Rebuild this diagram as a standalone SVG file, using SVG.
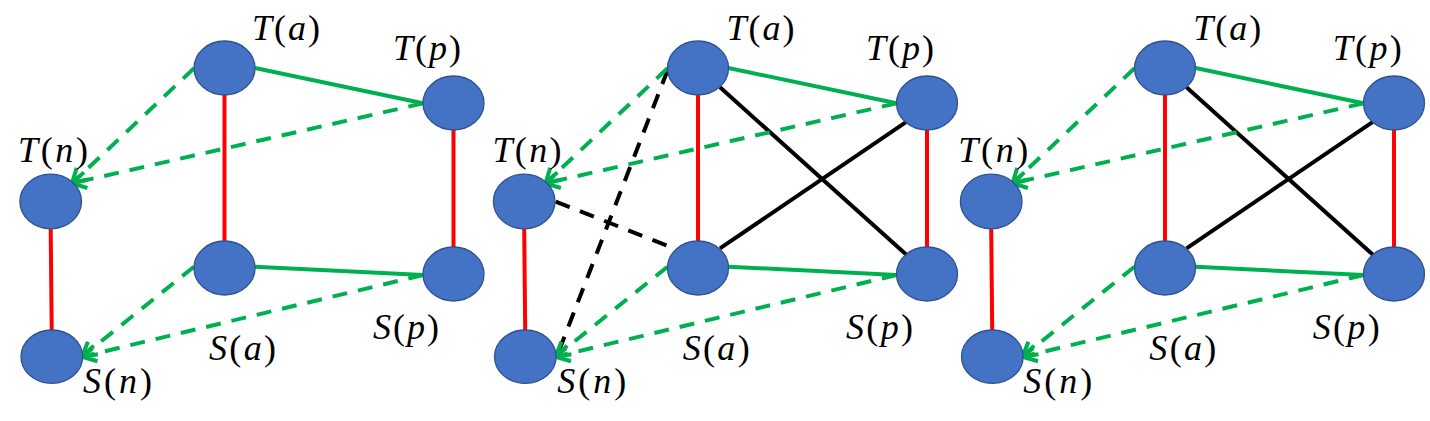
<svg xmlns="http://www.w3.org/2000/svg" width="1430" height="421" viewBox="0 0 1430 421">
<style>
.node{fill:#4472C4;stroke:#2F528F;stroke-width:1.3}
.g{stroke:#00B050;stroke-width:4;fill:none}
.gd{stroke:#00B050;stroke-width:4;fill:none;stroke-dasharray:15 11}
.r{stroke:#FF0000;stroke-width:4;fill:none}
.k{stroke:#000;stroke-width:4;fill:none}
.kd{stroke:#000;stroke-width:4;fill:none;stroke-dasharray:15 11}
.lbl{font-family:"Liberation Serif","DejaVu Serif",serif;font-size:36px;fill:#000}
.it{font-style:italic}
</style>
<defs>
<marker id="ga" markerUnits="userSpaceOnUse" markerWidth="22" markerHeight="22" refX="17" refY="11" orient="auto">
<path d="M3,3 L17,11 L3,19" fill="none" stroke="#00B050" stroke-width="4" stroke-dasharray="none"/>
</marker>
</defs>
<g id="connectors">
<!-- panel 1 -->
<line class="g" x1="255" y1="68" x2="423" y2="103.3"/>
<line class="g" x1="255" y1="266.7" x2="423" y2="275"/>
<line class="r" x1="224.5" y1="95" x2="224.5" y2="241"/>
<line class="r" x1="453.5" y1="130" x2="453.5" y2="247"/>
<line class="r" x1="50.7" y1="228.5" x2="51.7" y2="330"/>
<line class="gd" x1="194" y1="68.3" x2="72" y2="183.3" marker-end="url(#ga)"/>
<line class="gd" x1="423" y1="103.3" x2="72" y2="183.3" marker-end="url(#ga)"/>
<line class="gd" x1="194" y1="266.7" x2="82" y2="356.7" marker-end="url(#ga)"/>
<line class="gd" x1="423" y1="275" x2="82" y2="356.7" marker-end="url(#ga)"/>
<!-- panel 2 -->
<line class="kd" x1="667.7" y1="70" x2="556.7" y2="356.7"/>
<line class="kd" x1="555.7" y1="201.7" x2="670" y2="246.7"/>
<line class="k" x1="720" y1="87.3" x2="906.7" y2="255"/>
<line class="k" x1="720" y1="248.3" x2="906.7" y2="121.7"/>
<line class="g" x1="728.5" y1="68" x2="896.5" y2="103.3"/>
<line class="g" x1="728.5" y1="266.7" x2="896.5" y2="275"/>
<line class="r" x1="698" y1="95" x2="698" y2="241"/>
<line class="r" x1="927" y1="130" x2="927" y2="247"/>
<line class="r" x1="524.2" y1="228.5" x2="525.2" y2="330"/>
<line class="gd" x1="667.5" y1="68.3" x2="545.5" y2="183.3" marker-end="url(#ga)"/>
<line class="gd" x1="896.5" y1="103.3" x2="545.5" y2="183.3" marker-end="url(#ga)"/>
<line class="gd" x1="667.5" y1="266.7" x2="555.5" y2="356.7" marker-end="url(#ga)"/>
<line class="gd" x1="896.5" y1="275" x2="555.5" y2="356.7" marker-end="url(#ga)"/>
<!-- panel 3 -->
<line class="k" x1="1186.5" y1="87.3" x2="1373.2" y2="255"/>
<line class="k" x1="1186.5" y1="248.3" x2="1373.2" y2="121.7"/>
<line class="g" x1="1195.5" y1="68" x2="1363.5" y2="103.3"/>
<line class="g" x1="1195.5" y1="266.7" x2="1363.5" y2="275"/>
<line class="r" x1="1165" y1="95" x2="1165" y2="241"/>
<line class="r" x1="1394" y1="130" x2="1394" y2="247"/>
<line class="r" x1="991.2" y1="228.5" x2="992.2" y2="330"/>
<line class="gd" x1="1134.5" y1="68.3" x2="1012.5" y2="183.3" marker-end="url(#ga)"/>
<line class="gd" x1="1363.5" y1="103.3" x2="1012.5" y2="183.3" marker-end="url(#ga)"/>
<line class="gd" x1="1134.5" y1="266.7" x2="1022.5" y2="356.7" marker-end="url(#ga)"/>
<line class="gd" x1="1363.5" y1="275" x2="1022.5" y2="356.7" marker-end="url(#ga)"/>
</g>
<!-- panel 1 nodes -->
<g id="p1-Ta"><ellipse class="node" cx="224.5" cy="68" rx="30.5" ry="27"/><text class="lbl" x="252" y="40" textLength="68" lengthAdjust="spacing"><tspan class="it">T</tspan>(<tspan class="it">a</tspan>)</text></g>
<g id="p1-Tp"><ellipse class="node" cx="453.5" cy="103" rx="30.5" ry="27"/><text class="lbl" x="393" y="60" textLength="68" lengthAdjust="spacing"><tspan class="it">T</tspan>(<tspan class="it">p</tspan>)</text></g>
<g id="p1-Tn"><ellipse class="node" cx="50.7" cy="201.5" rx="30.8" ry="27.3"/><text class="lbl" x="18" y="161.7" textLength="70" lengthAdjust="spacing"><tspan class="it">T</tspan>(<tspan class="it">n</tspan>)</text></g>
<g id="p1-Sa"><ellipse class="node" cx="224.5" cy="268" rx="30.5" ry="27"/><text class="lbl" x="209" y="360" textLength="67" lengthAdjust="spacing"><tspan class="it">S</tspan>(<tspan class="it">a</tspan>)</text></g>
<g id="p1-Sp"><ellipse class="node" cx="453.5" cy="274" rx="30.5" ry="27"/><text class="lbl" x="373" y="339" textLength="66" lengthAdjust="spacing"><tspan class="it">S</tspan>(<tspan class="it">p</tspan>)</text></g>
<g id="p1-Sn"><ellipse class="node" cx="51.8" cy="356.7" rx="30.8" ry="26.7"/><text class="lbl" x="83" y="392.7" textLength="69" lengthAdjust="spacing"><tspan class="it">S</tspan>(<tspan class="it">n</tspan>)</text></g>
<!-- panel 2 nodes -->
<g id="p2-Ta"><ellipse class="node" cx="698" cy="68" rx="30.5" ry="27"/><text class="lbl" x="726.5" y="40" textLength="68" lengthAdjust="spacing"><tspan class="it">T</tspan>(<tspan class="it">a</tspan>)</text></g>
<g id="p2-Tp"><ellipse class="node" cx="927" cy="103" rx="30.5" ry="27"/><text class="lbl" x="866" y="60" textLength="68" lengthAdjust="spacing"><tspan class="it">T</tspan>(<tspan class="it">p</tspan>)</text></g>
<g id="p2-Tn"><ellipse class="node" cx="524.2" cy="201.5" rx="30.8" ry="27.3"/><text class="lbl" x="492.5" y="161.7" textLength="69" lengthAdjust="spacing"><tspan class="it">T</tspan>(<tspan class="it">n</tspan>)</text></g>
<g id="p2-Sa"><ellipse class="node" cx="698" cy="268" rx="30.5" ry="27"/><text class="lbl" x="682.7" y="360" textLength="67" lengthAdjust="spacing"><tspan class="it">S</tspan>(<tspan class="it">a</tspan>)</text></g>
<g id="p2-Sp"><ellipse class="node" cx="927" cy="274" rx="30.5" ry="27"/><text class="lbl" x="846" y="339" textLength="67" lengthAdjust="spacing"><tspan class="it">S</tspan>(<tspan class="it">p</tspan>)</text></g>
<g id="p2-Sn"><ellipse class="node" cx="525.3" cy="356.7" rx="30.8" ry="26.7"/><text class="lbl" x="557.3" y="392.7" textLength="69" lengthAdjust="spacing"><tspan class="it">S</tspan>(<tspan class="it">n</tspan>)</text></g>
<!-- panel 3 nodes -->
<g id="p3-Ta"><ellipse class="node" cx="1165" cy="68" rx="30.5" ry="27"/><text class="lbl" x="1193.3" y="40" textLength="68" lengthAdjust="spacing"><tspan class="it">T</tspan>(<tspan class="it">a</tspan>)</text></g>
<g id="p3-Tp"><ellipse class="node" cx="1394" cy="103" rx="30.5" ry="27"/><text class="lbl" x="1332.7" y="60" textLength="69" lengthAdjust="spacing"><tspan class="it">T</tspan>(<tspan class="it">p</tspan>)</text></g>
<g id="p3-Tn"><ellipse class="node" cx="991.2" cy="201.5" rx="30.8" ry="27.3"/><text class="lbl" x="958.3" y="161.7" textLength="70" lengthAdjust="spacing"><tspan class="it">T</tspan>(<tspan class="it">n</tspan>)</text></g>
<g id="p3-Sa"><ellipse class="node" cx="1165" cy="268" rx="30.5" ry="27"/><text class="lbl" x="1149.3" y="360" textLength="67" lengthAdjust="spacing"><tspan class="it">S</tspan>(<tspan class="it">a</tspan>)</text></g>
<g id="p3-Sp"><ellipse class="node" cx="1394" cy="274" rx="30.5" ry="27"/><text class="lbl" x="1312.7" y="339" textLength="67" lengthAdjust="spacing"><tspan class="it">S</tspan>(<tspan class="it">p</tspan>)</text></g>
<g id="p3-Sn"><ellipse class="node" cx="992.3" cy="356.7" rx="30.8" ry="26.7"/><text class="lbl" x="1023.3" y="392.7" textLength="69" lengthAdjust="spacing"><tspan class="it">S</tspan>(<tspan class="it">n</tspan>)</text></g>
</svg>
